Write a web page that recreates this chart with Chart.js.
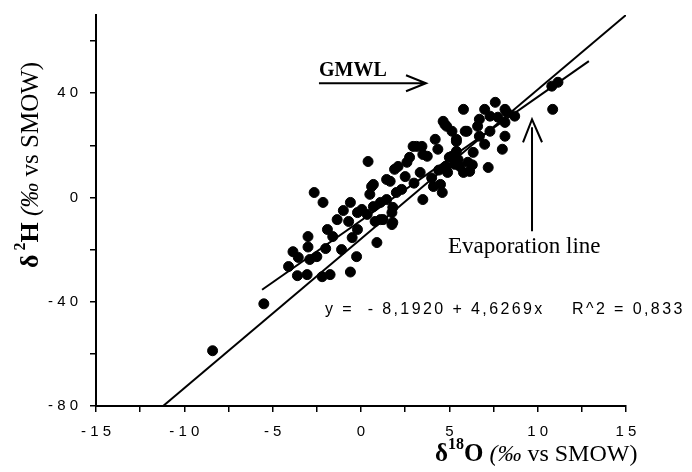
<!DOCTYPE html>
<html>
<head>
<meta charset="utf-8">
<script src="https://cdn.jsdelivr.net/npm/chart.js@4"></script>
<style>
  body { margin: 0; background: #fff; }
  #wrap { width: 692px; height: 472px; }
</style>
</head>
<body>
<div id="wrap"><canvas id="isoChart"></canvas></div>
<script>
// delta 18O (x) and delta 2H (y) of the samples, per mil vs SMOW
var d18O = [-8.4, -5.5, -4.1, -3.6, -3.05, -3.85, -3.0, -3.0, -3.55, -2.9, -2.5, -2.2, -1.75, -2.0, -1.9,
  -1.35, -1.6, -1.1, -0.6, -2.65, -2.15, -0.6, -0.7, -0.5, -0.25, -0.2, 0.05, 0.35, 0.6, 0.5,
  0.4, 0.9, 0.8, 1.25, 1.45, 1.8, 1.9, 1.8, 1.1, 2.1, 2.3, 2.75, 2.95, 3.35, 3.45,
  3.5, 4.1, 4.2, 4.35, 4.6, 4.9, 5.15, 5.4, 5.3, 5.6, 5.8, 6.05, 6.0, 6.15, 6.7,
  7.0, 7.2, 8.0, 8.15, 7.3, 4.5, 5.8, 7.0, 7.6, 6.7, 6.6, 4.65, 4.85, 5.15, 5.9,
  5.4, 3.5, 7.3, 7.75, 8.25, 8.7, 8.15, 10.85, 10.8, 11.15, 0.7, 1.45, 2.0, 1.75, 1.1,
  -0.2, 2.6, 3.75, 5.0, 5.4, 6.35, 4.75, 8.15, 1.65, 0.7, 4.0, 4.8, 5.5, 3.0, 2.5,
  6.3, 4.4, 1.75, -1.0, 3.15];
var d2H = [-58.8, -40.8, -26.5, -30, -29.6, -20.8, -15, -19, -23, -23.8, -22.7, -30.4, -29.6, -19.6, -12.3,
  -8.5, -15, -20, -28.6, 1.9, -1.9, -1.9, -9.2, -15.4, -22.7, -12.3, -4.6, -6.5, 4.2, 1.2,
  13.8, -17.3, -9.2, -8.5, 6.9, -9.6, 10.8, -3.8, -1.9, 11.9, 3.1, 15.4, 19.6, 9.6, 19.6,
  -0.8, 4.2, 22.3, 18.5, 1.9, 9.6, 15.8, 22.3, 12.7, 11.9, 9.6, 13.5, 25.4, 10, 23.5,
  20.4, 11.5, 18.5, 23.5, 25.4, 5, 33.8, 33.8, 36.5, 30, 27.3, 29.2, 27.3, 25.4, 25.4,
  21.5, 16.5, 31.2, 30.8, 32.7, 31.2, 28.8, 33.8, 42.7, 44.2, -3.5, -0.8, 1.9, -5.8, -8.5,
  -5.8, 13.5, 15.8, 15.4, 17.7, 17.3, 28, 33.8, 6.2, 5, 7.5, 12.0, 14.5, 5.5, 8.0,
  12.5, 10.5, -10.4, -5, 19.6];

// straight lines drawn on the plot (end points)
var gmwlX = [-11.2, 15];
var gmwlY = [-80, 70];
var evapX = [-5.6, 12.9];
var evapY = [-35.4, 52.3];

var xTicks = [-15, -10, -5, 0, 5, 10, 15];
var yTicks = [-80, -40, 0, 40];

function spaced(v) {
  return String(v).split('').join(' ');
}
function pairs(xs, ys) {
  return xs.map(function (x, i) { return { x: x, y: ys[i] }; });
}

var notes = {
  id: 'notes',
  afterDraw: function (chart) {
    var c = chart.ctx;
    var sx = chart.scales.x, sy = chart.scales.y;
    c.save();
    c.fillStyle = '#000';
    c.strokeStyle = '#000';
    c.lineWidth = 2;
    c.textBaseline = 'alphabetic';

    // GMWL label with arrow
    var gx = sx.getPixelForValue(-2.38), gy = sy.getPixelForValue(46.5);
    c.font = 'bold 20px "Liberation Serif"';
    c.textAlign = 'left';
    c.fillText('GMWL', gx, gy);
    var ay = sy.getPixelForValue(43.8), ax2 = sx.getPixelForValue(3.68);
    c.beginPath();
    c.moveTo(gx, ay); c.lineTo(ax2, ay);
    c.moveTo(ax2 - 20, ay - 8); c.lineTo(ax2, ay); c.lineTo(ax2 - 20, ay + 8);
    c.stroke();

    // evaporation line label with arrow
    var ex = sx.getPixelForValue(9.68);
    var eTop = sy.getPixelForValue(30), eBot = sy.getPixelForValue(-13);
    c.beginPath();
    c.moveTo(ex, eTop + 8); c.lineTo(ex, eBot);
    c.moveTo(ex - 9, eTop + 23); c.lineTo(ex, eTop); c.lineTo(ex + 10, eTop + 23);
    c.stroke();
    c.font = '23px "Liberation Serif"';
    c.textBaseline = 'middle';
    c.fillText('Evaporation line', sx.getPixelForValue(4.92), sy.getPixelForValue(-18.8));

    // regression equation
    c.font = '16px "Liberation Sans"';
    c.letterSpacing = '2.4px';
    c.fillText('y =  - 8,1920 + 4,6269x    R^2 = 0,833', sx.getPixelForValue(-2.04), sy.getPixelForValue(-43));
    c.letterSpacing = '0px';

    // axis titles
    c.textBaseline = 'alphabetic';
    var x0 = 435, base = 461;
    function run(parts) {
      var x = x0;
      parts.forEach(function (p) {
        c.font = p[1];
        c.fillText(p[0], x, base + (p[2] || 0));
        x += c.measureText(p[0]).width;
      });
    }
    run([['\u03b4', 'bold 25px "Liberation Serif"'], ['18', 'bold 16px "Liberation Serif"', -12],
      ['O', 'bold 25px "Liberation Serif"'], [' (\u2030', 'italic 24px "Liberation Serif"'],
      [' vs SMOW)', '24px "Liberation Serif"']]);

    c.translate(38, 268);
    c.rotate(-Math.PI / 2);
    x0 = 0; base = 0;
    run([['\u03b4', 'bold 26px "Liberation Serif"'], [' 2', 'bold 16px "Liberation Serif"', -13],
      ['H', 'bold 26px "Liberation Serif"'], [' (\u2030', 'italic 25px "Liberation Serif"'],
      [' vs SMOW)', '25px "Liberation Serif"']]);
    c.restore();
  }
};

var ctx = document.getElementById('isoChart').getContext('2d');
var isoChart = new Chart(ctx, {
  type: 'scatter',
  data: {
    datasets: [{
      label: 'samples',
      data: pairs(d18O, d2H),
      backgroundColor: '#000',
      borderColor: '#000',
      pointRadius: 5,
      pointHoverRadius: 5
    }, {
      label: 'GMWL',
      type: 'line',
      data: pairs(gmwlX, gmwlY),
      borderColor: '#000',
      borderWidth: 2,
      pointRadius: 0,
      fill: false
    }, {
      label: 'evaporation',
      type: 'line',
      data: pairs(evapX, evapY),
      borderColor: '#000',
      borderWidth: 2,
      pointRadius: 0,
      fill: false
    }]
  },
  options: {
    responsive: true,
    maintainAspectRatio: false,
    animation: false,
    layout: { padding: { top: 15, right: 66, left: 0, bottom: 0 } },
    plugins: { legend: { display: false }, tooltip: { enabled: false } },
    scales: {
      x: {
        type: 'linear',
        min: -15, max: 15,
        afterBuildTicks: function (s) {
          s.ticks = [];
          for (var v = -15; v <= 15; v += 2.5) s.ticks.push({ value: v });
        },
        afterFit: function (s) { s.height = 66; },
        grid: { drawOnChartArea: false, drawTicks: true, tickLength: 6, color: '#000', lineWidth: 1.5 },
        border: { display: true, color: '#000', width: 2 },
        ticks: {
          color: '#000',
          padding: 11,
          maxRotation: 0,
          autoSkip: false,
          font: { family: 'Liberation Sans', size: 15 },
          callback: function (v) { return xTicks.indexOf(v) >= 0 ? spaced(v) : ''; }
        }
      },
      y: {
        type: 'linear',
        min: -80, max: 70,
        afterBuildTicks: function (s) {
          s.ticks = [];
          for (var v = -80; v <= 60; v += 20) s.ticks.push({ value: v });
        },
        afterFit: function (s) {
          s.width = 96;
          s.paddingTop = 0;
          s.paddingBottom = 0;
        },
        grid: { drawOnChartArea: false, drawTicks: true, tickLength: 6, color: '#000', lineWidth: 1.5 },
        border: { display: true, color: '#000', width: 2 },
        ticks: {
          color: '#000',
          padding: 12,
          autoSkip: false,
          font: { family: 'Liberation Sans', size: 15 },
          callback: function (v) { return yTicks.indexOf(v) >= 0 ? spaced(v) : ''; }
        }
      }
    }
  },
  plugins: [notes]
});
</script>
</body>
</html>
